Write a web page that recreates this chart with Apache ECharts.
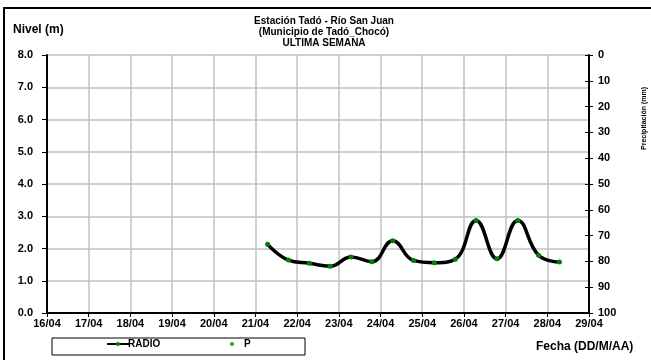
<!DOCTYPE html>
<html><head><meta charset="utf-8">
<script src="https://cdn.jsdelivr.net/npm/echarts@6/dist/echarts.min.js"></script>
<style>html,body{margin:0;padding:0;background:#fff}#c{width:651px;height:360px}</style>
</head><body><div id="c"></div>
<script>
const times = ["2024-04-21T07:00:00Z","2024-04-21T19:00:00Z","2024-04-22T07:00:00Z","2024-04-22T19:00:00Z",
"2024-04-23T07:00:00Z","2024-04-23T19:00:00Z","2024-04-24T07:00:00Z","2024-04-24T19:00:00Z",
"2024-04-25T07:00:00Z","2024-04-25T19:00:00Z","2024-04-26T07:00:00Z","2024-04-26T19:00:00Z",
"2024-04-27T07:00:00Z","2024-04-27T19:00:00Z","2024-04-28T07:00:00Z"];
const nivel = [2.13,1.64,1.54,1.45,1.74,1.59,2.24,1.63,1.56,1.67,2.87,1.68,2.87,1.79,1.58];
const precip = [];
const xStart = "2024-04-16T00:00:00Z";
const xEnd = "2024-04-29T00:00:00Z";
const titleLines = ["Estación Tadó - Río San Juan","(Municipio de Tadó_Chocó)","ULTIMA SEMANA"];

const DAY = 86400000;
const FONT = "'Liberation Sans', Arial, sans-serif";
const chart = echarts.init(document.getElementById('c'));
const lab = {fontFamily: FONT, fontWeight: 'bold', fontSize: 11, color: '#000'};
const pad = n => (n < 10 ? '0' : '') + n;
chart.setOption({
  animation: false,
  textStyle: {fontFamily: FONT},
  title: {text: titleLines.join('\n'), left: 319, textAlign: 'center', top: 11,
    textStyle: {fontFamily: FONT, fontWeight: 'bold', fontSize: 10, lineHeight: 11, color: '#000'}},
  grid: {left: 47, right: 62, top: 55, bottom: 47},
  legend: [
    {data: ['RADIO'], left: 106, top: 339, itemWidth: 22, itemHeight: 5, itemGap: 4, padding: 0,
      textStyle: {fontFamily: FONT, fontWeight: 'bold', fontSize: 10, color: '#000', padding: [0,0,0,-6]}},
    {data: ['P'], left: 230, top: 339, itemWidth: 6, itemHeight: 4, padding: 0,
      textStyle: {fontFamily: FONT, fontWeight: 'bold', fontSize: 10, color: '#000', padding: [0,0,0,4]}}
  ],
  xAxis: {type: 'value', min: Date.parse(xStart), max: Date.parse(xEnd), interval: DAY,
    axisLine: {onZero: false, lineStyle: {color: '#000', width: 2}},
    axisTick: {length: 4, lineStyle: {color: '#000', width: 1}},
    splitLine: {show: true, lineStyle: {color: '#c0c0c0', width: 1.5}},
    axisLabel: Object.assign({margin: 5, formatter: v => { const d = new Date(v); return pad(d.getUTCDate()) + '/' + pad(d.getUTCMonth()+1); }}, lab)},
  yAxis: [
    {type: 'value', min: 0, max: 8, interval: 1, position: 'left',
      axisLine: {show: true, lineStyle: {color: '#000', width: 2}},
      axisTick: {show: true, length: 5, lineStyle: {color: '#000'}},
      splitLine: {show: true, lineStyle: {color: '#c0c0c0', width: 1.5}},
      axisLabel: Object.assign({margin: 14, formatter: v => v.toFixed(1)}, lab)},
    {type: 'value', min: 0, max: 100, interval: 10, inverse: true, position: 'right',
      axisLine: {show: true, lineStyle: {color: '#000', width: 2}},
      axisTick: {show: true, length: 4, lineStyle: {color: '#000'}},
      splitLine: {show: false},
      axisLabel: Object.assign({margin: 9}, lab)},
    {type: 'value', min: 0, max: 100, interval: 10, inverse: true, position: 'right',
      axisLine: {show: false},
      axisTick: {show: true, inside: true, length: 4, lineStyle: {color: '#000'}},
      splitLine: {show: false}, axisLabel: {show: false}}
  ],
  series: [
    {name: 'RADIO', type: 'line', smooth: 0.45, yAxisIndex: 0,
      data: times.map((t, i) => [Date.parse(t), nivel[i]]),
      lineStyle: {color: '#000', width: 3.5}, symbol: 'circle', symbolSize: 5, showSymbol: true,
      itemStyle: {color: '#008000'}},
    {name: 'P', type: 'scatter', yAxisIndex: 1, data: precip, symbol: 'circle', symbolSize: 4,
      itemStyle: {color: '#008000'}}
  ],
  graphic: [
    {type: 'rect', shape: {x: 4, y: 8, width: 680, height: 380}, style: {fill: 'none', stroke: '#000', lineWidth: 2}},
    {type: 'rect', shape: {x: 52, y: 338, width: 253, height: 17}, style: {fill: 'none', stroke: '#000', lineWidth: 1}},
    {type: 'text', left: 13, top: 24, style: {text: 'Nivel (m)', font: 'bold 12px ' + FONT, fill: '#000'}},
    {type: 'text', left: 536, top: 341, style: {text: 'Fecha (DD/M/AA)', font: 'bold 12px ' + FONT, fill: '#000'}},
    {type: 'text', x: 641, y: 150, rotation: Math.PI/2, style: {text: 'Precipitación (mm)', font: 'bold 7px ' + FONT, fill: '#000'}}
  ]
});
</script></body></html>
